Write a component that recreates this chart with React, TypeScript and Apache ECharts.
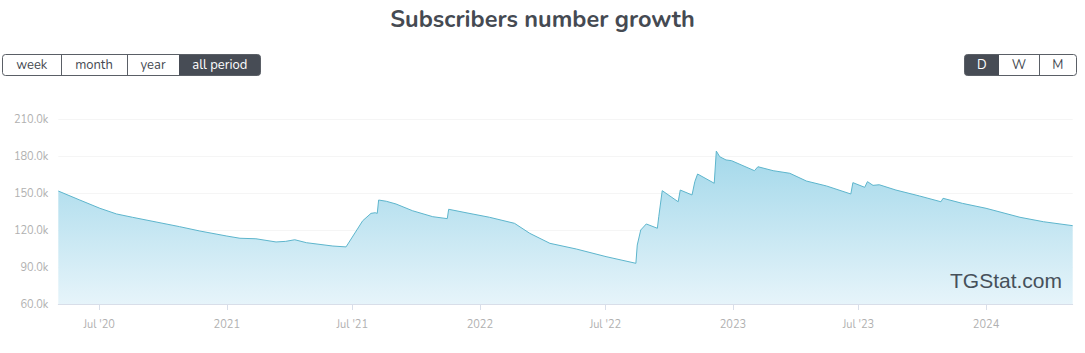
import React, { useEffect, useRef } from "react";
import * as echarts from "echarts";

const TITLE = "Subscribers number growth";
const PERIOD_BUTTONS = ["week", "month", "year", "all period"];
const SCALE_BUTTONS = ["D", "W", "M"];

const dates = [
  "2020-05-03", "2020-06-03", "2020-07-02", "2020-07-26", "2020-08-18", "2020-09-21",
  "2020-10-25", "2020-11-23", "2021-01-01", "2021-01-20", "2021-02-12", "2021-03-13",
  "2021-03-27", "2021-04-09", "2021-04-26", "2021-06-03", "2021-06-22", "2021-07-16",
  "2021-07-28", "2021-08-03", "2021-08-06", "2021-08-08", "2021-08-19", "2021-09-02",
  "2021-09-26", "2021-10-25", "2021-11-15", "2021-11-17", "2021-12-12", "2022-01-15",
  "2022-02-20", "2022-03-14", "2022-04-12", "2022-05-20", "2022-07-02", "2022-08-14",
  "2022-08-16", "2022-08-21", "2022-08-29", "2022-09-14", "2022-09-16", "2022-09-21",
  "2022-10-14", "2022-10-17", "2022-11-03", "2022-11-07", "2022-11-11", "2022-12-05",
  "2022-12-08", "2022-12-13", "2022-12-22", "2022-12-30", "2023-02-01", "2023-02-06",
  "2023-02-28", "2023-03-24", "2023-04-17", "2023-05-16", "2023-06-20", "2023-06-23",
  "2023-07-10", "2023-07-14", "2023-07-22", "2023-07-31", "2023-08-24", "2023-09-27",
  "2023-10-28", "2023-10-31", "2023-11-28", "2024-01-01", "2024-02-19", "2024-03-24",
  "2024-05-05",
];

const subscribers = [
  151600, 144300, 137600, 133000, 130300, 126500,
  122700, 119200, 115100, 113300, 112900, 110300,
  110800, 112100, 109700, 107000, 106300, 127500,
  133500, 134000, 133500, 144300, 143300, 141100,
  135600, 130800, 129200, 136800, 134000, 130300,
  125400, 117300, 109200, 104600, 98400, 93000,
  107800, 120000, 124900, 121400, 130800, 151900,
  142900, 152400, 148400, 159200, 165400, 157900,
  184000, 179400, 176800, 176200, 168100, 171300,
  168100, 166000, 159700, 155700, 149200, 158400,
  154600, 159200, 156200, 156700, 152400, 147600,
  142900, 145700, 141600, 137600, 130300, 126700,
  123500,
];

const tickDates = [
  "2020-07-01", "2021-01-01", "2021-07-01", "2022-01-01",
  "2022-07-01", "2023-01-01", "2023-07-01", "2024-01-01",
];
const tickLabels = ["Jul '20", "2021", "Jul '21", "2022", "Jul '22", "2023", "Jul '23", "2024"];

const yTicks = [60000, 90000, 120000, 150000, 180000, 210000];

const WATERMARK = "TGStat.com";

const FONT = "Nunito, Lato, 'Open Sans', sans-serif";

export default function App() {
  const ref = useRef<HTMLDivElement | null>(null);

  useEffect(() => {
    if (!ref.current) return;
    const chart = echarts.init(ref.current, undefined, { renderer: "svg" });

    const data = dates.map((d, i) => [Date.parse(d), subscribers[i]]);
    const tickTs = tickDates.map((d) => Date.parse(d));
    const labelFor = (v: number) => {
      const idx = tickTs.findIndex((t) => Math.abs(t - v) < 86400000);
      return idx >= 0 ? tickLabels[idx] : "";
    };

    const dark = "#474c55";
    const border = "#5a5f66";

    const leftEdges = [2.5, 61, 127, 179, 260.5];
    const rightEdges = [964.5, 999, 1039, 1076.5];
    const btnTop = 54.5;
    const btnH = 21;

    const graphics: any[] = [];
    graphics.push({
      type: "rect",
      shape: { x: 179, y: btnTop, width: 260.5 - 179, height: btnH, r: [0, 3, 3, 0] },
      style: { fill: dark },
      silent: true,
    });
    graphics.push({
      type: "rect",
      shape: { x: leftEdges[0], y: btnTop, width: leftEdges[4] - leftEdges[0], height: btnH, r: 3 },
      style: { fill: "none", stroke: border, lineWidth: 1 },
      silent: true,
    });
    [61, 127].forEach((x) => {
      graphics.push({
        type: "line",
        shape: { x1: x + 0.5, y1: btnTop, x2: x + 0.5, y2: btnTop + btnH },
        style: { stroke: border, lineWidth: 1 },
        silent: true,
      });
    });
    PERIOD_BUTTONS.forEach((label, i) => {
      const cx = (leftEdges[i] + leftEdges[i + 1]) / 2;
      graphics.push({
        type: "text",
        x: cx,
        y: 65,
        style: {
          text: label,
          fill: i === 3 ? "#ffffff" : "#454a52",
          font: `13px ${FONT}`,
          align: "center",
          verticalAlign: "middle",
        },
        silent: true,
      });
    });
    graphics.push({
      type: "rect",
      shape: { x: 964.5, y: btnTop, width: 999 - 964.5, height: btnH, r: [3, 0, 0, 3] },
      style: { fill: dark },
      silent: true,
    });
    graphics.push({
      type: "rect",
      shape: { x: 964.5, y: btnTop, width: 1076.5 - 964.5, height: btnH, r: 3 },
      style: { fill: "none", stroke: border, lineWidth: 1 },
      silent: true,
    });
    graphics.push({
      type: "line",
      shape: { x1: 1039.5, y1: btnTop, x2: 1039.5, y2: btnTop + btnH },
      style: { stroke: border, lineWidth: 1 },
      silent: true,
    });
    SCALE_BUTTONS.forEach((label, i) => {
      const cx = (rightEdges[i] + rightEdges[i + 1]) / 2;
      graphics.push({
        type: "text",
        x: cx,
        y: 65,
        style: {
          text: label,
          fill: i === 0 ? "#ffffff" : "#454a52",
          font: `13px ${FONT}`,
          align: "center",
          verticalAlign: "middle",
        },
        silent: true,
      });
    });
    graphics.push({
      type: "text",
      x: 1062,
      y: 280,
      z: 100,
      style: {
        text: WATERMARK,
        fill: "#46505a",
        font: "21px 'Liberation Sans', Arial, sans-serif",
        align: "right",
        verticalAlign: "middle",
      },
      silent: true,
    });

    chart.setOption({
      animation: false,
      backgroundColor: "#ffffff",
      title: {
        text: TITLE,
        left: "center",
        top: 2,
        textStyle: {
          fontFamily: FONT,
          fontSize: 23.5,
          fontWeight: "bold",
          color: "#454a52",
        },
      },
      grid: { left: 58.3, right: 12.3, top: 119, bottom: 49, containLabel: false },
      xAxis: {
        type: "value",
        min: Date.parse(dates[0]),
        max: Date.parse(dates[dates.length - 1]),
        axisLine: { show: true, onZero: false, lineStyle: { color: "#d8dee9", width: 1 } },
        axisTick: {
          show: true,
          length: 6,
          lineStyle: { color: "#d8dee9" },
          customValues: tickTs,
        },
        axisLabel: {
          customValues: tickTs,
          formatter: (v: number) => labelFor(v),
          color: "#b0b0b0",
          fontFamily: FONT,
          fontSize: 11,
          margin: 15,
          showMinLabel: true,
          showMaxLabel: true,
        },
        splitLine: { show: false },
      },
      yAxis: {
        type: "value",
        min: yTicks[0],
        max: yTicks[yTicks.length - 1],
        interval: 30000,
        axisLine: { show: false },
        axisTick: { show: false },
        axisLabel: {
          formatter: (v: number) => (v / 1000).toFixed(1) + "k",
          color: "#b0b0b0",
          fontFamily: FONT,
          fontSize: 11,
          margin: 10,
          padding: [0, 0, 4, 0],
        },
        splitLine: { show: true, lineStyle: { color: "#f5f5f5", width: 1 } },
      },
      series: [
        {
          type: "line",
          data,
          showSymbol: false,
          symbol: "none",
          lineStyle: { color: "#5db5cc", width: 1 },
          areaStyle: {
            color: new echarts.graphic.LinearGradient(0, 0, 0, 1, [
              { offset: 0, color: "#a3d8ea" },
              { offset: 1, color: "#e6f4fa" },
            ]),
            opacity: 1,
          },
        },
      ],
      graphic: graphics,
    });

    return () => chart.dispose();
  }, []);

  return (
    <div
      ref={ref}
      style={{ position: "absolute", left: 0, top: 0, width: 1085, height: 353 }}
    />
  );
}
